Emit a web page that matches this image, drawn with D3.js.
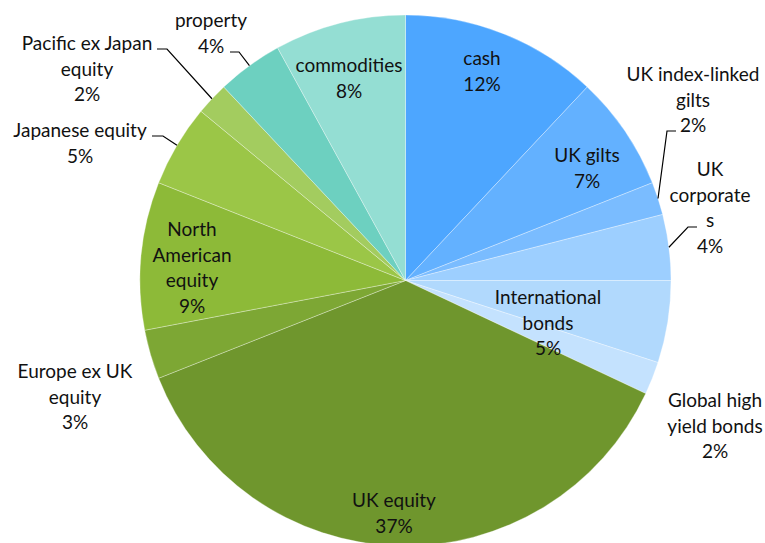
<!DOCTYPE html>
<meta charset="utf-8">
<script src="https://d3js.org/d3.v7.min.js"></script>
<style>
  body { margin: 0; background: #fff; }
  text { font-family: Lato, "Open Sans", sans-serif; font-size: 19px; fill: #111; }
</style>
<div id="chart"></div>
<script>
  // asset allocation, clockwise from 12 o'clock
  var categories = ["cash", "UK gilts", "UK index-linked gilts", "UK corporates",
    "International bonds", "Global high yield bonds", "UK equity", "Europe ex UK equity",
    "North American equity", "Japanese equity", "Pacific ex Japan equity", "property", "commodities"];
  var values = [12, 7, 2, 4, 5, 2, 37, 3, 9, 5, 2, 4, 8];
  var colors = ["#4da6ff", "#63b1ff", "#7abcff", "#9dcfff", "#b1d9fd", "#c4e2fe",
    "#6f962d", "#7da734", "#8dba38", "#9bc647", "#a3cc5f", "#6dd0c0", "#94ded3"];
  // how each label is broken into lines
  var labelLines = [
    ["cash"], ["UK gilts"], ["UK index-linked", "gilts"], ["UK", "corporate", "s"],
    ["International", "bonds"], ["Global high", "yield bonds"], ["UK equity"],
    ["Europe ex UK", "equity"], ["North", "American", "equity"], ["Japanese equity"],
    ["Pacific ex Japan", "equity"], ["property"], ["commodities"]
  ];

  var width = 765, height = 543;
  var cx = 405.5, cy = 280.5, r = 265.5;
  var lineH = 25.5;

  // label layout: text centre x, first baseline y, optional leader elbow [x, y, end x]
  var labelLayout = [
    {x: 482, y: 65},
    {x: 587, y: 162},
    {x: 693, y: 81, leader: [667, 131, 676]},
    {x: 710, y: 176, leader: [688, 227, 697]},
    {x: 548, y: 304},
    {x: 715, y: 407},
    {x: 394, y: 507},
    {x: 75, y: 378},
    {x: 192, y: 236},
    {x: 80, y: 137, leader: [163, 136, 152]},
    {x: 87, y: 50, leader: [167, 49, 157]},
    {x: 211, y: 27, leader: [239, 52, 230]},
    {x: 349, y: 72}
  ];

  var data = categories.map(function(c, i) {
    return {name: c, value: values[i], color: colors[i], lines: labelLines[i], layout: labelLayout[i]};
  });

  var svg = d3.select("#chart").append("svg")
    .attr("width", width)
    .attr("height", height);

  var g = svg.append("g").attr("transform", "translate(" + cx + "," + cy + ")");

  var pie = d3.pie().sort(null).value(function(d) { return d.value; });
  var arc = d3.arc().innerRadius(0).outerRadius(r);
  var arcs = pie(data);

  g.selectAll("path.slice")
    .data(arcs)
    .enter().append("path")
      .attr("class", "slice")
      .attr("d", arc)
      .attr("fill", function(d) { return d.data.color; })
      .attr("stroke", "#fff")
      .attr("stroke-opacity", 0.45)
      .attr("stroke-width", 0.7);

  // leader lines for the small outside labels
  arcs.forEach(function(d) {
    var L = d.data.layout.leader;
    if (!L) return;
    var a = (d.startAngle + d.endAngle) / 2;
    var p0 = [cx + r * Math.sin(a), cy - r * Math.cos(a)];
    svg.append("polyline")
      .attr("points", [p0, [L[0], L[1]], [L[2], L[1]]].map(function(p) { return p.join(","); }).join(" "))
      .attr("fill", "none")
      .attr("stroke", "#000")
      .attr("stroke-width", 1.2);
  });

  // labels: name lines then percentage
  arcs.forEach(function(d) {
    var lay = d.data.layout;
    var lines = d.data.lines.concat([d.data.value + "%"]);
    var t = svg.append("text")
      .attr("text-anchor", "middle");
    lines.forEach(function(s, i) {
      t.append("tspan")
        .attr("x", lay.x)
        .attr("y", lay.y + i * lineH)
        .text(s);
    });
  });
</script>
